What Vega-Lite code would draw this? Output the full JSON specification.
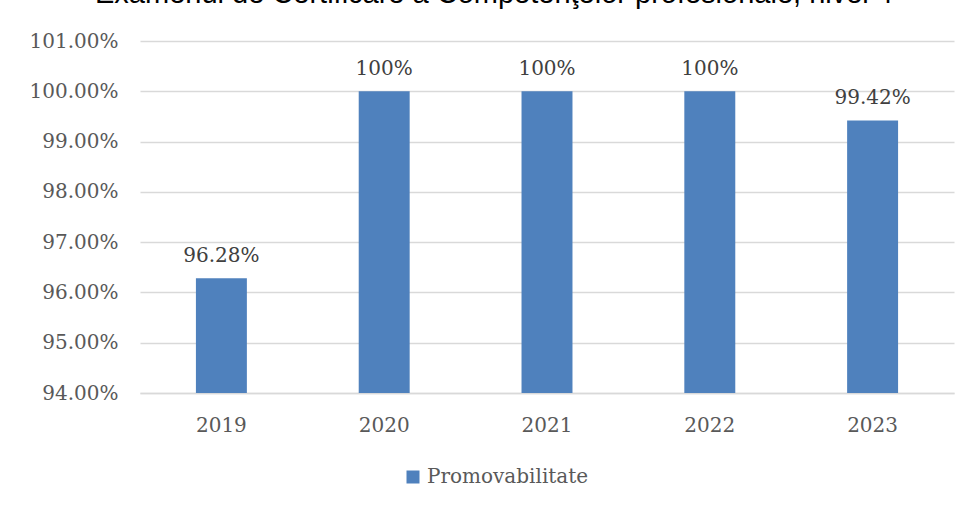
{
  "$schema": "https://vega.github.io/schema/vega-lite/v6.json",
  "autosize": {"type": "none"},
  "width": 814,
  "height": 352,
  "padding": {"left": 140, "top": 41, "right": 15, "bottom": 116},
  "background": "white",
  "title": {
    "text": "Examenul de Certificare a Competenţelor profesionale, nivel 4",
    "font": "Liberation Sans",
    "fontSize": 29,
    "fontWeight": "normal",
    "color": "#000000",
    "anchor": "middle",
    "frame": "group",
    "dx": -53,
    "offset": 0,
    "baseline": "alphabetic",
    "dy": 1
  },
  "data": {
    "values": [
      {"year": "2019", "value": 0.9628, "label": "96.28%", "series": "Promovabilitate"},
      {"year": "2020", "value": 1.0, "label": "100%", "series": "Promovabilitate"},
      {"year": "2021", "value": 1.0, "label": "100%", "series": "Promovabilitate"},
      {"year": "2022", "value": 1.0, "label": "100%", "series": "Promovabilitate"},
      {"year": "2023", "value": 0.9942, "label": "99.42%", "series": "Promovabilitate"}
    ]
  },
  "encoding": {
    "x": {
      "field": "year",
      "type": "nominal",
      "scale": {"paddingInner": 0.687, "paddingOuter": 0.3435},
      "axis": {
        "title": null,
        "labelAngle": 0,
        "labelFont": "DejaVu Serif",
        "labelFontSize": 20,
        "labelColor": "#595959",
        "labelPadding": 22,
        "ticks": false,
        "domainColor": "#d9d9d9",
        "domainWidth": 1.5
      }
    },
    "y": {
      "field": "value",
      "type": "quantitative",
      "scale": {"domain": [0.94, 1.01], "zero": false, "nice": false},
      "axis": {
        "title": null,
        "format": ".2%",
        "values": [0.94, 0.95, 0.96, 0.97, 0.98, 0.99, 1.0, 1.01],
        "labelFont": "DejaVu Serif",
        "labelFontSize": 20,
        "labelColor": "#595959",
        "labelPadding": 22,
        "ticks": false,
        "domain": false,
        "grid": true,
        "gridColor": "#d9d9d9",
        "gridWidth": 1.5
      }
    }
  },
  "layer": [
    {
      "mark": {"type": "bar", "clip": true},
      "encoding": {
        "color": {
          "field": "series",
          "type": "nominal",
          "scale": {"range": ["#4f81bd"]},
          "legend": {
            "title": null,
            "orient": "none",
            "legendX": 263,
            "legendY": 426,
            "symbolType": "square",
            "symbolSize": 169,
            "symbolStrokeWidth": 0,
            "labelFont": "DejaVu Serif",
            "labelFontSize": 20,
            "labelColor": "#595959",
            "labelOffset": 4,
            "labelLimit": 400,
            "padding": 0
          }
        }
      }
    },
    {
      "mark": {
        "type": "text",
        "font": "DejaVu Serif",
        "fontSize": 20,
        "color": "#404040",
        "baseline": "alphabetic",
        "dy": -16
      },
      "encoding": {
        "text": {"field": "label", "type": "nominal"}
      }
    }
  ],
  "config": {
    "view": {"stroke": null}
  }
}
